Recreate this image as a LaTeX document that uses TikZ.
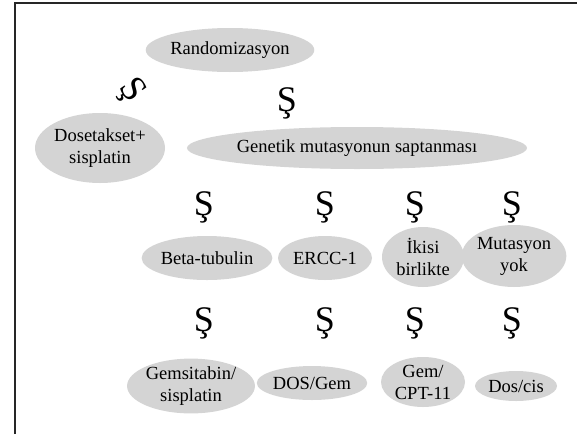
\documentclass[tikz,border=0pt]{standalone}
\usepackage{fontspec}
\setmainfont{Liberation Serif}
\usetikzlibrary{shapes.geometric}

\tikzset{
  blob/.style={ellipse,fill=black!17,inner sep=0pt,align=center,
    font=\fontsize{18.5}{22}\selectfont},
  sgn/.style={inner sep=0pt,font=\fontsize{36}{36}\selectfont}
}

\begin{document}
\begin{tikzpicture}[x=1pt,y=-1pt]
\useasboundingbox (0,0) rectangle (577,434);
\draw[line width=1.8pt,black!85] (15,434) -- (15,3) -- (577,3);

\node[blob,minimum width=146,minimum height=44] (R) at (230,50) {Randomizasyon};
\node[sgn,rotate=-55] (s0) at (131,91) {Ş};
\node[sgn] (s1) at (287,103) {Ş};

\node[blob,minimum width=130,minimum height=70] (D) at (100,148) {Dosetakset+\\sisplatin};
\node[blob,minimum width=286,minimum height=42] (G) at (357,148) {Genetik mutasyonun saptanması};

\node[sgn] (s2) at (204,207) {Ş};
\node[sgn] (s3) at (325,207) {Ş};
\node[sgn] (s4) at (415,207) {Ş};
\node[sgn] (s5) at (512,207) {Ş};

\node[blob,minimum width=124,minimum height=44] (BT) at (207,258) {Beta-tubulin};
\node[blob,minimum width=94,minimum height=44] (ER) at (325,258) {ERCC-1};
\node[blob,minimum width=82,minimum height=60] (IK) at (423,257) {İkisi\\birlikte};
\node[blob,minimum width=90,minimum height=62] (MY) at (514,256) {Mutasyon\\yok};

\node[sgn] (s6) at (204,323) {Ş};
\node[sgn] (s7) at (325,323) {Ş};
\node[sgn] (s8) at (415,323) {Ş};
\node[sgn] (s9) at (512,323) {Ş};

\node[blob,minimum width=126,minimum height=50] (GS) at (191,386) {Gemsitabin/\\sisplatin};
\node[blob,minimum width=100,minimum height=34] (DG) at (312,383) {DOS/Gem};
\node[blob,minimum width=84,minimum height=50] (GC) at (423,382) {Gem/\\CPT-11};
\node[blob,minimum width=82,minimum height=30] (DC) at (516,386) {Dos/cis};
\end{tikzpicture}
\end{document}
